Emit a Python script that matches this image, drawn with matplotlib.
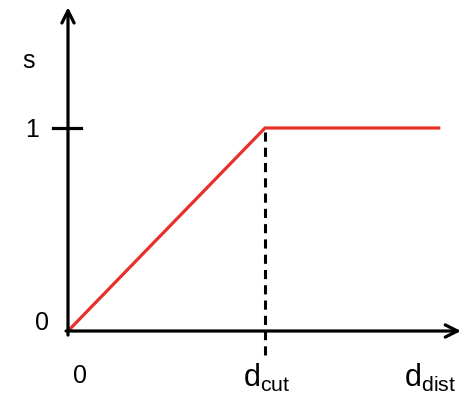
import matplotlib.pyplot as plt

plt.rcParams['font.family'] = ['Liberation Sans', 'DejaVu Sans']
plt.rcParams['mathtext.fontset'] = 'custom'
plt.rcParams['mathtext.rm'] = 'Liberation Sans'

# piecewise linear score: rises to 1 at d_cut, then stays flat
d_vals = [0, 1, 1.89]
s_vals = [0, 1, 1]
d_cut = 1

fig = plt.figure(figsize=(4.61, 3.97), dpi=100)
ax = fig.add_axes([0, 0, 1, 1])
ax.set_xlim(-68 / 197, 393 / 197)
ax.set_ylim(-66 / 203, 331 / 203)
ax.axis('off')

# axes with arrow heads
arrow = dict(arrowstyle='->', lw=2.3, color='black', mutation_scale=22,
             shrinkA=0, shrinkB=0)
ax.annotate('', xy=(0, 1.595), xytext=(0, -0.02), arrowprops=arrow)
ax.annotate('', xy=(1.995, 0), xytext=(-0.01, 0), arrowprops=arrow)

# tick at s = 1
ax.plot([-0.077, 0.066], [1, 1], color='black', lw=2.3)

# dashed marker at d_cut
ax.plot([d_cut, d_cut], [-0.12, 1], color='black', lw=2.2, ls=(0, (3, 2)))

ax.plot(d_vals, s_vals, color='#e8302a', lw=2.3, solid_capstyle='butt')

ax.text(-0.2, 1.33, 's', fontsize=18, ha='center', va='center')
ax.text(-0.18, 0.99, '1', fontsize=18, ha='center', va='center')
ax.text(-0.13, 0.04, '0', fontsize=18, ha='center', va='center')
ax.text(0.06, -0.22, '0', fontsize=18, ha='center', va='center')
ax.text(d_cut + 0.01, -0.23, r'$\mathregular{d_{cut}}$', fontsize=22,
        ha='center', va='center')
ax.text(1.84, -0.23, r'$\mathregular{d_{dist}}$', fontsize=22,
        ha='center', va='center')

fig.savefig('out.png', dpi=100)
